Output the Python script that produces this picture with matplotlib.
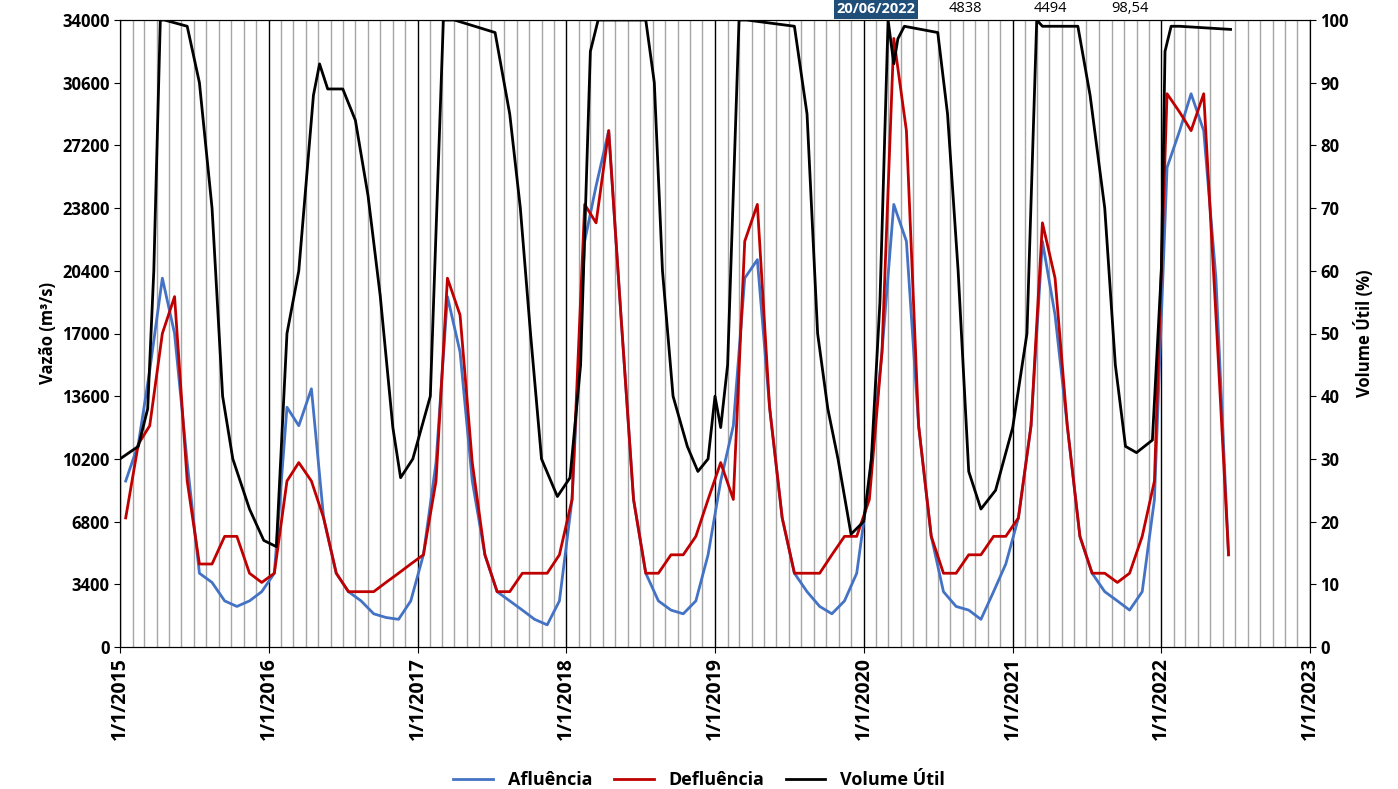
import matplotlib
matplotlib.use("Agg")
import matplotlib.pyplot as plt
import matplotlib.dates as mdates
import pandas as pd
import numpy as np

months = pd.date_range("2015-01-01", periods=90, freq="MS") + pd.Timedelta(days=14)
afluencia = [9, 11, 15, 20, 17, 10, 4, 3.5, 2.5, 2.2, 2.5, 3.0,
             4, 13, 12, 14, 7, 4, 3, 2.5, 1.8, 1.6, 1.5, 2.5,
             5, 10, 19, 16, 9, 5, 3, 2.5, 2.0, 1.5, 1.2, 2.5,
             8, 22, 25, 28, 18, 8, 4, 2.5, 2.0, 1.8, 2.5, 5,
             9, 12, 20, 21, 13, 7, 4, 3, 2.2, 1.8, 2.5, 4,
             9, 16, 24, 22, 12, 6, 3, 2.2, 2.0, 1.5, 3, 4.5,
             7, 12, 22, 18, 12, 6, 4, 3, 2.5, 2.0, 3, 8,
             26, 28, 30, 28, 20, 5]
defluencia = [7, 11, 12, 17, 19, 9, 4.5, 4.5, 6, 6, 4, 3.5,
              4, 9, 10, 9, 7, 4, 3, 3, 3, 3.5, 4, 4.5,
              5, 9, 20, 18, 10, 5, 3, 3, 4, 4, 4, 5,
              8, 24, 23, 28, 18, 8, 4, 4, 5, 5, 6, 8,
              10, 8, 22, 24, 13, 7, 4, 4, 4, 5, 6, 6,
              8, 16, 33, 28, 12, 6, 4, 4, 5, 5, 6, 6,
              7, 12, 23, 20, 12, 6, 4, 4, 3.5, 4, 6, 9,
              30, 29, 28, 30, 18, 5]
afl_dates = months[:len(afluencia)]

vol_dates = pd.to_datetime([
    "2015-01-01", "2015-02-15", "2015-03-10", "2015-03-25", "2015-04-10", "2015-04-20", "2015-06-15",
    "2015-07-15", "2015-08-15", "2015-09-10", "2015-10-05", "2015-11-15", "2015-12-20",
    "2016-01-20", "2016-02-15", "2016-03-15", "2016-04-20", "2016-05-05", "2016-05-25", "2016-07-01",
    "2016-08-01", "2016-09-01", "2016-10-01", "2016-11-01", "2016-11-20", "2016-12-20", "2017-02-01",
    "2017-03-05", "2017-04-01", "2017-07-10", "2017-08-15", "2017-09-10", "2017-10-05", "2017-11-01",
    "2017-12-10", "2018-01-10",
    "2018-02-05", "2018-03-01", "2018-03-20", "2018-07-15", "2018-08-05", "2018-08-25", "2018-09-20",
    "2018-10-25", "2018-11-20", "2018-12-15", "2019-01-01", "2019-01-15", "2019-02-01",
    "2019-03-01", "2019-03-20", "2019-07-15", "2019-08-15", "2019-09-10", "2019-10-05", "2019-10-30",
    "2019-12-01", "2020-01-01",
    "2020-01-20", "2020-02-10", "2020-03-01", "2020-03-15", "2020-03-25", "2020-04-10", "2020-07-01",
    "2020-07-25", "2020-08-20", "2020-09-15", "2020-10-15", "2020-11-20", "2021-01-01",
    "2021-02-05", "2021-03-01", "2021-03-15", "2021-06-10", "2021-07-10", "2021-08-15", "2021-09-10",
    "2021-10-05", "2021-11-01", "2021-12-10", "2022-01-01", "2022-01-10", "2022-01-25", "2022-02-15",
    "2022-06-20"])
volume = [30, 32, 38, 60, 100, 100, 99,
          90, 70, 40, 30, 22, 17,
          16, 50, 60, 88, 93, 89, 89,
          84, 72, 56, 35, 27, 30, 40,
          100, 100, 98, 85, 70, 50, 30,
          24, 27,
          45, 95, 100, 100, 90, 60, 40,
          32, 28, 30, 40, 35, 45,
          100, 100, 99, 85, 50, 38, 30,
          18, 20,
          30, 55, 100, 93, 97, 99, 98,
          85, 60, 28, 22, 25, 35,
          50, 100, 99, 99, 88, 70, 45,
          32, 31, 33, 60, 95, 99, 99,
          98.5]

plt.rcParams['font.family'] = ['Open Sans', 'DejaVu Sans']
fig = plt.figure(figsize=(13.98, 7.89), dpi=100)
ax = fig.add_axes([120/1398, 1-647/789, 1190/1398, 627/789])
ax2 = ax.twinx()

for d in pd.date_range("2015-01-01", "2023-01-01", freq="MS"):
    c = "black" if d.month == 1 else "#a6a6a6"
    ax.axvline(d, color=c, lw=1, zorder=0)

l1, = ax.plot(afl_dates, np.array(afluencia) * 1000, color="#4472c4", lw=2, label="Afluência")
l2, = ax.plot(afl_dates, np.array(defluencia) * 1000, color="#c00000", lw=2, label="Defluência")
l3, = ax2.plot(vol_dates, volume, color="black", lw=2, label="Volume Útil")

ax.set_xlim(pd.Timestamp("2015-01-01"), pd.Timestamp("2023-01-01"))
ax.set_ylim(0, 34000)
ax.set_yticks(np.arange(0, 34001, 3400))
ax2.set_ylim(0, 100)
ax2.set_yticks(np.arange(0, 101, 10))
ax.xaxis.set_major_locator(mdates.YearLocator())
ax.xaxis.set_major_formatter(mdates.DateFormatter("1/1/%Y"))
for lab in ax.get_xticklabels():
    lab.set_rotation(90); lab.set_fontweight("bold"); lab.set_fontsize(14)
for lab in ax.get_yticklabels() + ax2.get_yticklabels():
    lab.set_fontweight("bold"); lab.set_fontsize(12)
ax.set_ylabel("Vazão (m³/s)", fontweight="bold", fontsize=12)
ax2.set_ylabel("Volume Útil (%)", fontweight="bold", fontsize=12)
ax.tick_params(length=4)
ax2.tick_params(length=4)

fig.text(876/1398, 1-9/789, "20/06/2022", ha="center", va="center", color="white", fontweight="bold",
         fontsize=10.5, bbox=dict(facecolor="#1f4e79", edgecolor="none", pad=2))
fig.text(965/1398, 1-9/789, "4838", ha="center", va="center", fontsize=10.5)
fig.text(1050/1398, 1-9/789, "4494", ha="center", va="center", fontsize=10.5)
fig.text(1130/1398, 1-9/789, "98,54", ha="center", va="center", fontsize=10.5)

fig.legend(handles=[l1, l2, l3], loc="center", bbox_to_anchor=(0.5, 1-780/789), ncol=3, frameon=False,
           prop=dict(weight="bold", size=13), handlelength=2.2, columnspacing=1.2)
fig.savefig("out.png", dpi=100)
